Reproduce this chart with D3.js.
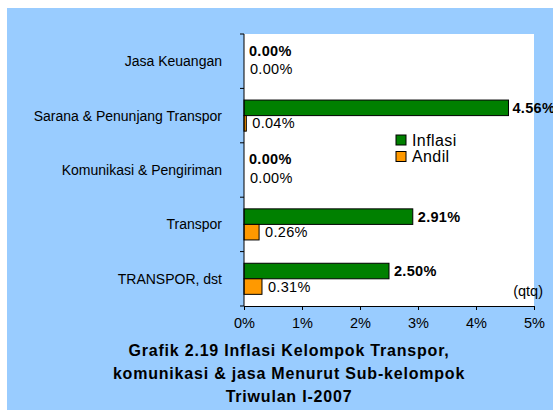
<!DOCTYPE html>
<html>
<head>
<meta charset="utf-8">
<script src="https://cdn.jsdelivr.net/npm/d3@7"></script>
<style>
  body { margin: 0; background: #fff; }
  text { font-family: Arial, "Liberation Sans", sans-serif; fill: #000; }
</style>
</head>
<body>
<svg id="chart"></svg>
<script>
// Data (percent, qtq)
const categories = ['Jasa Keuangan', 'Sarana & Penunjang Transpor', 'Komunikasi & Pengiriman', 'Transpor', 'TRANSPOR, dst'];
const inflasi = [0.00, 4.56, 0.00, 2.91, 2.50];
const andil = [0.00, 0.04, 0.00, 0.26, 0.31];
const seriesNames = ['Inflasi', 'Andil'];
const xTicks = [0, 1, 2, 3, 4, 5];
const titleLines = ['Grafik 2.19 Inflasi Kelompok Transpor,', 'komunikasi & jasa Menurut Sub-kelompok', 'Triwulan I-2007'];

const width = 553, height = 410;
const colors = { Inflasi: '#008000', Andil: '#FF9900' };

const svg = d3.select('#chart')
  .attr('width', width)
  .attr('height', height);

// blue panel
svg.append('rect')
  .attr('x', 7).attr('y', 8)
  .attr('width', width - 7).attr('height', height - 8)
  .attr('fill', '#99CCFF');

const xScale = d3.scaleLinear([0, 5], [244, 534]);
const yScale = d3.scaleBand(categories, [34, 306]).paddingInner(0).paddingOuter(0);
const sub = d3.scaleBand(seriesNames, [0, yScale.bandwidth()]).paddingInner(0).paddingOuter(0.75);

// white plot area
svg.append('rect')
  .attr('x', xScale(0)).attr('y', 34)
  .attr('width', xScale(5) - xScale(0)).attr('height', 306 - 34)
  .attr('fill', '#fff');

const rows = categories.map((c, i) => ({ c, Inflasi: inflasi[i], Andil: andil[i] }));

// bars
const g = svg.append('g');
seriesNames.forEach(s => {
  g.selectAll(null)
    .data(rows)
    .join('rect')
      .attr('x', xScale(0))
      .attr('y', d => yScale(d.c) + sub(s))
      .attr('width', d => xScale(d[s]) - xScale(0))
      .attr('height', sub.bandwidth())
      .attr('fill', colors[s])
      .attr('stroke', d => d[s] > 0 ? '#000' : 'none')
      .attr('stroke-width', 1);
});

// value labels
g.selectAll(null)
  .data(rows)
  .join('text')
    .attr('x', d => xScale(d.Inflasi) + (d.Inflasi > 4 ? 4 : 5))
    .attr('y', d => yScale(d.c) + sub('Inflasi') + sub.bandwidth() / 2 - (d.Inflasi > 0 ? 0 : 3))
    .attr('dy', '0.35em')
    .attr('font-size', 14.5)
    .attr('font-weight', 'bold')
    .attr('letter-spacing', 0.3)
    .text(d => d.Inflasi.toFixed(2) + '%');

g.selectAll(null)
  .data(rows)
  .join('text')
    .attr('x', d => xScale(d.Andil) + 6)
    .attr('y', d => yScale(d.c) + sub('Andil') + sub.bandwidth() / 2)
    .attr('dy', '0.35em')
    .attr('font-size', 14.5)
    .attr('letter-spacing', 0.3)
    .text(d => d.Andil.toFixed(2) + '%');

// left axis: line + ticks at band edges
const edges = categories.map(c => yScale(c)).concat([306]);
svg.append('line')
  .attr('x1', xScale(0)).attr('x2', xScale(0))
  .attr('y1', 34).attr('y2', 306)
  .attr('stroke', '#000');
svg.append('g').selectAll('line')
  .data(edges)
  .join('line')
    .attr('x1', xScale(0) - 4).attr('x2', xScale(0))
    .attr('y1', d => d).attr('y2', d => d)
    .attr('stroke', '#000');

// category labels
svg.append('g').selectAll('text')
  .data(categories)
  .join('text')
    .attr('x', 222)
    .attr('y', d => yScale(d) + yScale.bandwidth() / 2)
    .attr('dy', '0.35em')
    .attr('text-anchor', 'end')
    .attr('font-size', 14)
    .text(d => d);

// bottom axis
const xAxis = svg.append('g')
  .attr('transform', 'translate(0,306)')
  .call(d3.axisBottom(xScale).tickValues(xTicks).tickSize(4).tickPadding(8).tickFormat(d => d + '%'));
xAxis.select('.domain').attr('stroke', '#000');
xAxis.selectAll('.tick line').attr('stroke', '#000');
xAxis.selectAll('.tick text')
  .attr('font-size', 14.5)
  .attr('font-family', 'Arial, "Liberation Sans", sans-serif')
  .attr('fill', '#000');

// (qtq)
svg.append('text')
  .attr('x', 543).attr('y', 296)
  .attr('text-anchor', 'end')
  .attr('font-size', 14.5)
  .text('(qtq)');

// legend
const legend = svg.append('g').attr('transform', 'translate(396,135)');
seriesNames.forEach((s, i) => {
  legend.append('rect')
    .attr('x', 0).attr('y', i * 16.5)
    .attr('width', 10).attr('height', 10)
    .attr('fill', colors[s])
    .attr('stroke', '#000');
  legend.append('text')
    .attr('x', 16).attr('y', i * 16.5 + 5)
    .attr('dy', '0.35em')
    .attr('font-size', 16)
    .attr('letter-spacing', 0.4)
    .text(s);
});

// title
svg.append('g').selectAll('text')
  .data(titleLines)
  .join('text')
    .attr('x', 289)
    .attr('y', (d, i) => 356 + i * 22.8)
    .attr('text-anchor', 'middle')
    .attr('font-size', 16)
    .attr('font-weight', 'bold')
    .attr('letter-spacing', 0.8)
    .text(d => d);
</script>
</body>
</html>
